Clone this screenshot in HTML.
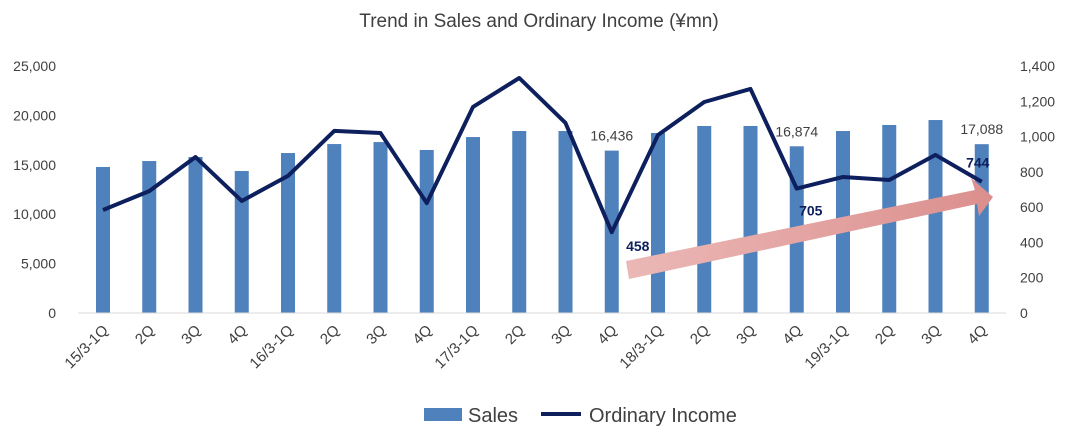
<!DOCTYPE html>
<html><head><meta charset="utf-8"><style>
body{margin:0;background:#fff;font-family:"Liberation Sans","Noto Sans CJK JP",sans-serif}
svg text{font-family:"Liberation Sans","Noto Sans CJK JP",sans-serif}
</style></head><body>
<svg id="c" width="1078" height="443">
<defs><linearGradient id="ag" x1="0" x2="1"><stop offset="0" stop-color="#ebb8b6"/><stop offset="1" stop-color="#db8f8d"/></linearGradient></defs>
<text x="539" y="27" text-anchor="middle" font-size="19" fill="#404040">Trend in Sales and Ordinary Income (¥mn)</text>
<g id="g"></g>
<g>
<rect x="424" y="408" width="38" height="13" fill="#4f81bd"/>
<text x="468" y="422" font-size="20" fill="#404040">Sales</text>
<line x1="541" y1="414" x2="581" y2="414" stroke="#0d1f5c" stroke-width="4"/>
<text x="589" y="422" font-size="20" fill="#404040">Ordinary Income</text>
</g>
</svg>
<script>
const categories=["15/3-1Q","2Q","3Q","4Q","16/3-1Q","2Q","3Q","4Q","17/3-1Q","2Q","3Q","4Q","18/3-1Q","2Q","3Q","4Q","19/3-1Q","2Q","3Q","4Q"];
const sales=[14780,15380,15790,14370,16190,17100,17300,16500,17810,18420,18420,16436,18220,18930,18930,16874,18420,19030,19530,17088];
const income=[584,691,884,635,777,1032,1020,623,1168,1332,1077,458,1009,1196,1270,705,771,754,896,744];
const leftTicks=[0,5000,10000,15000,20000,25000];
const rightTicks=[0,200,400,600,800,1000,1200,1400];
const NS="http://www.w3.org/2000/svg",g=document.getElementById('g');
const y0=313,y1=66,x0=103,dx=46.25;
const xs=i=>x0+i*dx, yl=v=>y0-(v/25000)*(y0-y1), yr=v=>y0-(v/1400)*(y0-y1);
function mk(t,a,p){const e=document.createElementNS(NS,t);for(const k in a)e.setAttribute(k,a[k]);(p||g).appendChild(e);return e;}
leftTicks.forEach(v=>{const t=mk('text',{x:56,y:yl(v)+5,'text-anchor':'end','font-size':14,fill:'#404040'});t.textContent=v.toLocaleString('en-US');

});
rightTicks.forEach(v=>{const t=mk('text',{x:1020,y:yr(v)+5,'font-size':14,fill:'#404040'});t.textContent=v.toLocaleString('en-US');

});
sales.forEach((v,i)=>{const r=mk('rect',{x:xs(i)-7,y:yl(v),width:14,height:y0-yl(v),fill:'#4f81bd'});

});
const ax=mk('line',{x1:78,x2:1006,y1:y0,y2:y0,stroke:'#d9d9d9','stroke-width':1});


categories.forEach((c,i)=>{const t=mk('text',{x:xs(i)+6,y:331,'text-anchor':'end','font-size':15,fill:'#404040',transform:`rotate(-45 ${xs(i)+6} 331)`});t.textContent=c;

});
const ar=mk('polygon',{points:"626,261 975,190 971,178 993,197 979,216 977,204 629,279",fill:'url(#ag)'});


const ln=mk('polyline',{points:income.map((v,i)=>xs(i)+','+yr(v)).join(' '),fill:'none',stroke:'#0d1f5c','stroke-width':4,'stroke-linejoin':'round'});


[11,15,19].forEach(i=>{const t=mk('text',{x:xs(i),y:yl(sales[i])-10,'text-anchor':'middle','font-size':14,fill:'#404040'});t.textContent=sales[i].toLocaleString('en-US');

});
[[11,26,14],[15,14,22],[19,-4,-19]].forEach(([i,ox,oy])=>{const t=mk('text',{x:xs(i)+ox,y:yr(income[i])+oy+5,'text-anchor':'middle','font-size':14,'font-weight':'bold',fill:'#0d1f5c'});t.textContent=income[i];

});
</script>
</body></html>
